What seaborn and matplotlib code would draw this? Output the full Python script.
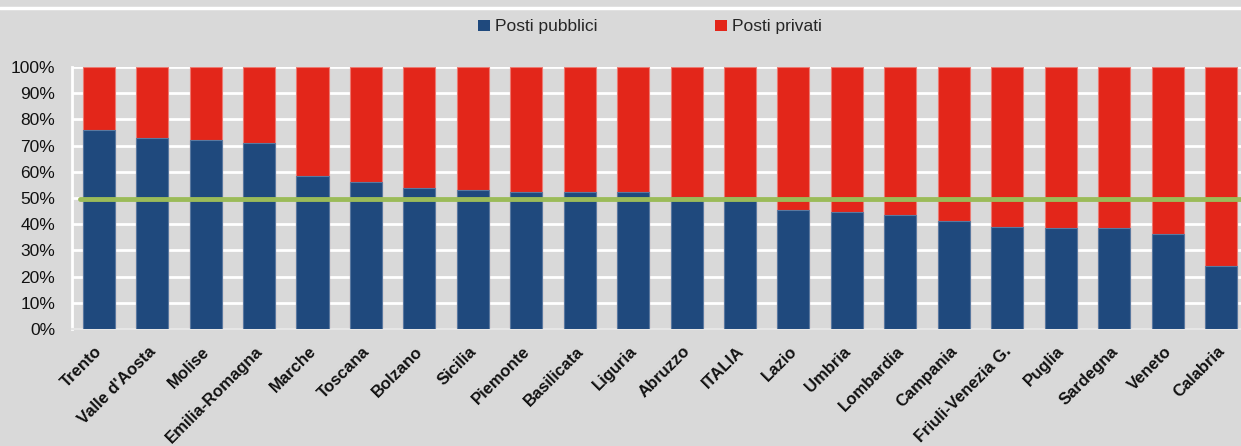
import matplotlib
matplotlib.use("Agg")
import matplotlib.pyplot as plt
import seaborn as sns
import pandas as pd
from matplotlib.lines import Line2D
from matplotlib.patches import Patch
import matplotlib.transforms as mtransforms

regioni = ["Trento", "Valle d'Aosta", "Molise", "Emilia-Romagna", "Marche", "Toscana",
           "Bolzano", "Sicilia", "Piemonte", "Basilicata", "Liguria", "Abruzzo", "ITALIA",
           "Lazio", "Umbria", "Lombardia", "Campania", "Friuli-Venezia G.", "Puglia",
           "Sardegna", "Veneto", "Calabria"]
posti_pubblici = [75.8, 73.0, 72.3, 71.1, 58.5, 56.2, 54.0, 53.1, 52.4, 52.4, 52.4, 50.2, 50.2,
                  45.4, 44.8, 43.6, 41.2, 38.8, 38.7, 38.4, 36.4, 24.2]
posti_privati = [24.2, 27.0, 27.7, 28.9, 41.5, 43.8, 46.0, 46.9, 47.6, 47.6, 47.6, 49.8, 49.8,
                 54.6, 55.2, 56.4, 58.8, 61.2, 61.3, 61.6, 63.6, 75.8]
soglia = 49.5
yticks = [0, 10, 20, 30, 40, 50, 60, 70, 80, 90, 100]
ytick_labels = ["0%", "10%", "20%", "30%", "40%", "50%", "60%", "70%", "80%", "90%", "100%"]

df = pd.DataFrame({"regione": regioni, "pubblici": posti_pubblici, "privati": posti_privati})
df["totale"] = df["pubblici"] + df["privati"]

BG = "#D9D9D9"
BLUE = "#1F497D"
RED = "#E3261A"
GREEN = "#9BBB59"

sns.set_theme(style="white")
plt.rcParams["font.family"] = ["Liberation Sans", "DejaVu Sans"]

fig = plt.figure(figsize=(12.41, 4.46), dpi=100, facecolor=BG)
ax = fig.add_axes([72 / 1241, 1 - 329 / 446, 1 - 72 / 1241, (329 - 67) / 446])
ax.set_facecolor(BG)

sns.barplot(data=df, x="regione", y="totale", color=RED, width=0.6, ax=ax,
            edgecolor="#EC7A72", linewidth=0.8, saturation=1, zorder=2)
sns.barplot(data=df, x="regione", y="pubblici", color=BLUE, width=0.6, ax=ax,
            edgecolor="#5A79A0", linewidth=0.8, saturation=1, zorder=3)

ax.axhline(soglia, xmin=8 / 1169, xmax=1, color=GREEN, linewidth=3.5, zorder=4)

ax.set_ylim(0, 100)
ax.set_xlim(-0.5, 21 + 20 / 53.4)
ax.set_yticks(yticks)
ax.set_yticklabels(ytick_labels, fontsize=12.5, color="#111111")
ax.yaxis.grid(True, color="white", linewidth=2, zorder=0)
ax.set_axisbelow(True)
ax.set_xlabel("")
ax.set_ylabel("")
for s in ["top", "right"]:
    ax.spines[s].set_visible(False)
ax.spines["left"].set_color("white")
ax.spines["left"].set_linewidth(2)
ax.spines["bottom"].set_color("#E6E6E6")
ax.spines["bottom"].set_linewidth(1.5)
ax.tick_params(axis="y", length=0, pad=12)
ax.tick_params(axis="x", length=0, pad=2)

ax.set_xticks(range(len(regioni)))
ax.set_xticklabels(regioni, rotation=45, ha="right", rotation_mode="anchor",
                   fontsize=12, fontweight="bold", color="#111111")
offset = mtransforms.ScaledTranslation(-4 / 100, -12 / 100, fig.dpi_scale_trans)
for lab in ax.get_xticklabels():
    lab.set_transform(lab.get_transform() + offset)

# top white separator line
fig.add_artist(Line2D([0, 1], [1 - 8 / 446, 1 - 8 / 446], color="white", linewidth=2.5,
                      transform=fig.transFigure))

handles = [Patch(facecolor=BLUE, edgecolor="none", label="Posti pubblici"),
           Patch(facecolor=RED, edgecolor="none", label="Posti privati")]
fig.legend(handles=handles, loc="center", bbox_to_anchor=(650 / 1241, 1 - 27 / 446), ncol=2,
           frameon=False, fontsize=12.5, handlelength=0.65, handleheight=0.65,
           handletextpad=0.3, columnspacing=6.8)

fig.savefig("out.png", dpi=100, facecolor=BG)
